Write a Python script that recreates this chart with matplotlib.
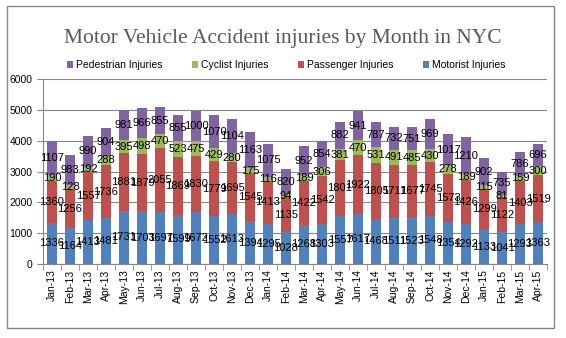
import matplotlib
matplotlib.use("Agg")
import matplotlib.pyplot as plt
from matplotlib.patches import Rectangle
import numpy as np

plt.rcParams["font.family"] = ["Liberation Sans", "DejaVu Sans"]

months = ["Jan-13", "Feb-13", "Mar-13", "Apr-13", "May-13", "Jun-13", "Jul-13",
          "Aug-13", "Sep-13", "Oct-13", "Nov-13", "Dec-13", "Jan-14", "Feb-14",
          "Mar-14", "Apr-14", "May-14", "Jun-14", "Jul-14", "Aug-14", "Sep-14",
          "Oct-14", "Nov-14", "Dec-14", "Jan-15", "Feb-15", "Mar-15", "Apr-15"]

motorist = [1336, 1164, 1413, 1481, 1731, 1703, 1697, 1599, 1672, 1552, 1613, 1394,
            1295, 1028, 1268, 1303, 1557, 1617, 1468, 1511, 1523, 1548, 1354, 1292,
            1133, 1041, 1293, 1363]
passenger = [1360, 1256, 1557, 1736, 1881, 1879, 2055, 1869, 1830, 1779, 1695, 1545,
             1413, 1135, 1422, 1542, 1801, 1922, 1805, 1711, 1677, 1745, 1573, 1426,
             1299, 1122, 1403, 1519]
cyclist = [190, 128, 192, 288, 395, 498, 470, 523, 475, 429, 280, 175,
           116, 94, 189, 306, 381, 470, 531, 491, 485, 430, 278, 189,
           115, 81, 159, 300]
pedestrian = [1107, 983, 990, 904, 981, 966, 855, 855, 1000, 1070, 1104, 1163,
              1075, 820, 952, 854, 882, 941, 787, 732, 751, 969, 1017, 1210,
              902, 735, 786, 696]

series = [("Motorist Injuries", motorist, "#4F81BD"),
          ("Passenger Injuries", passenger, "#C0504D"),
          ("Cyclist Injuries", cyclist, "#9BBB59"),
          ("Pedestrian Injuries", pedestrian, "#8064A2")]

fig = plt.figure(figsize=(5.66, 3.38), dpi=100)
# outer chart border
fig.patches.append(Rectangle((7 / 566, 1 - 328 / 338), 547 / 566, 322 / 338,
                             transform=fig.transFigure, fill=False,
                             edgecolor="#888888", linewidth=1))
ax = fig.add_axes([43 / 566, 1 - 264 / 338, 504 / 566, 185 / 338])

x = np.arange(len(months))
bottom = np.zeros(len(months))
handles = {}
for name, vals, col in series:
    bars = ax.bar(x, vals, 0.55, bottom=bottom, color=col, label=name, zorder=3)
    ax.bar_label(bars, labels=[str(v) for v in vals], label_type="center",
                 fontsize=8, color="black", zorder=4)
    handles[name] = bars
    bottom += np.array(vals)

ax.set_xlim(-0.5, len(months) - 0.5)
ax.set_ylim(0, 6000)
ax.set_yticks(range(0, 6001, 1000))
ax.yaxis.grid(True, color="#868686", linewidth=0.8, zorder=0)
ax.set_xticks(x)
ax.set_xticklabels(months, rotation=90, fontsize=7.5)
ax.set_xticks(np.arange(-0.5, len(months), 1), minor=True)
ax.tick_params(axis="x", which="major", length=0, pad=4)
ax.tick_params(axis="x", which="minor", length=4, color="#868686")
ax.tick_params(axis="y", labelsize=7.5, length=4, color="#868686")
for s in ["top", "right"]:
    ax.spines[s].set_visible(False)
for s in ["left", "bottom"]:
    ax.spines[s].set_color("#868686")

order = ["Pedestrian Injuries", "Cyclist Injuries", "Passenger Injuries", "Motorist Injuries"]
fig.legend([handles[n] for n in order], order, loc="center", ncol=4,
           bbox_to_anchor=(286 / 566, 1 - 65 / 338), frameon=False, fontsize=7.5,
           handlelength=0.6, handleheight=0.6, columnspacing=2.8, handletextpad=0.3)

fig.text(0.5, 1 - 38 / 338, "Motor Vehicle Accident injuries by Month in NYC",
         ha="center", va="center", fontsize=15.5, color="#595959",
         family="Liberation Serif")

fig.savefig("out.png", dpi=100)
